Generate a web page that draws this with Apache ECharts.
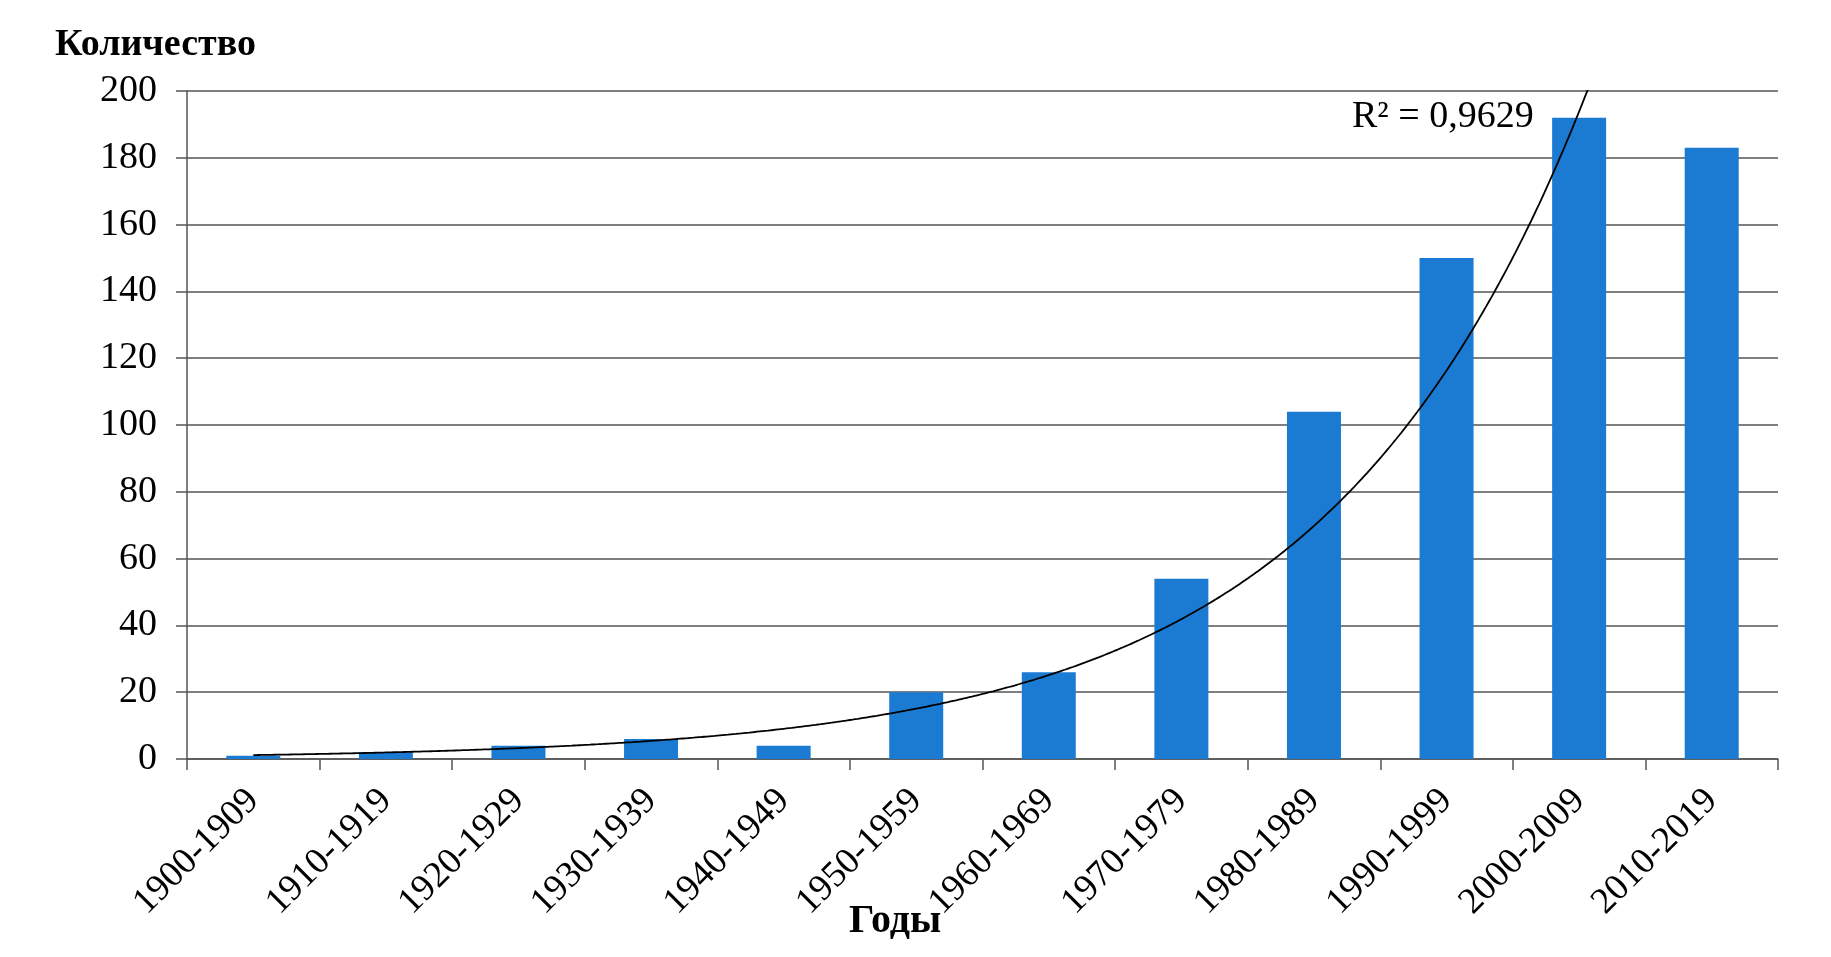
<!DOCTYPE html>
<html>
<head>
<meta charset="utf-8">
<script src="https://cdn.jsdelivr.net/npm/echarts@6/dist/echarts.min.js"></script>
<style>
html,body{margin:0;padding:0;background:#fff;}
#chart{width:1831px;height:957px;}
</style>
</head>
<body>
<div id="chart"></div>
<script>
var categories = ['1900-1909','1910-1919','1920-1929','1930-1939','1940-1949','1950-1959','1960-1969','1970-1979','1980-1989','1990-1999','2000-2009','2010-2019'];
var counts = [1, 2, 4, 6, 4, 20, 26, 54, 104, 150, 192, 183];
var yTicks = [0, 20, 40, 60, 80, 100, 120, 140, 160, 180, 200];
var trendLabel = 'R² = 0,9629';
var yTitle = 'Количество';
var xTitle = 'Годы';

// exponential trendline (least squares on ln y), as in the source spreadsheet
function expFit(vals) {
  var n = vals.length, sx = 0, sy = 0, sxx = 0, sxy = 0;
  for (var i = 0; i < n; i++) {
    var x = i + 1, ly = Math.log(vals[i]);
    sx += x; sy += ly; sxx += x * x; sxy += x * ly;
  }
  var b = (n * sxy - sx * sy) / (n * sxx - sx * sx);
  var la = (sy - b * sx) / n;
  return {a: Math.exp(la), b: b};
}
var fit = expFit(counts);
var trend = [];
for (var t = 1; t <= counts.length + 0.0001; t += 0.02) {
  trend.push([t, fit.a * Math.exp(fit.b * t)]);
}

var FONT = '"Liberation Serif", "Times New Roman", serif';
var chart = echarts.init(document.getElementById('chart'));
chart.setOption({
  animation: false,
  backgroundColor: '#ffffff',
  grid: {left: 187, right: 53, top: 91, bottom: 198, containLabel: false},
  xAxis: [{
    type: 'category',
    data: categories,
    boundaryGap: true,
    axisLine: {lineStyle: {color: '#555', width: 1.5}},
    axisTick: {show: true, length: 11, lineStyle: {color: '#555', width: 1.5}},
    axisLabel: {rotate: 45, margin: 36, color: '#000', fontFamily: FONT, fontSize: 37, interval: 0},
    splitLine: {show: false}
  }, {
    type: 'value',
    min: 0.5,
    max: 12.5,
    show: false
  }],
  yAxis: {
    type: 'value',
    min: yTicks[0],
    max: yTicks[yTicks.length - 1],
    interval: 20,
    axisLine: {show: true, lineStyle: {color: '#555', width: 1.5}},
    axisTick: {show: true, length: 11, lineStyle: {color: '#555', width: 1.5}},
    axisLabel: {margin: 30, color: '#000', fontFamily: FONT, fontSize: 38},
    splitLine: {show: true, lineStyle: {color: '#555', width: 1.5}}
  },
  series: [{
    type: 'bar',
    data: counts,
    barWidth: 54,
    itemStyle: {color: '#1b7bd3'},
    z: 2
  }, {
    type: 'line',
    xAxisIndex: 1,
    data: trend,
    showSymbol: false,
    symbol: 'none',
    smooth: false,
    clip: true,
    lineStyle: {color: '#000', width: 1.8},
    z: 3
  }],
  graphic: [{
    type: 'text',
    left: 55,
    top: 26,
    style: {text: yTitle, font: 'bold 38px ' + FONT, fill: '#000'}
  }, {
    type: 'text',
    left: 849,
    top: 902,
    style: {text: xTitle, font: 'bold 40px ' + FONT, fill: '#000'}
  }, {
    type: 'text',
    left: 1352,
    top: 98,
    style: {text: trendLabel, font: '38px ' + FONT, fill: '#000'}
  }]
});
</script>
</body>
</html>
